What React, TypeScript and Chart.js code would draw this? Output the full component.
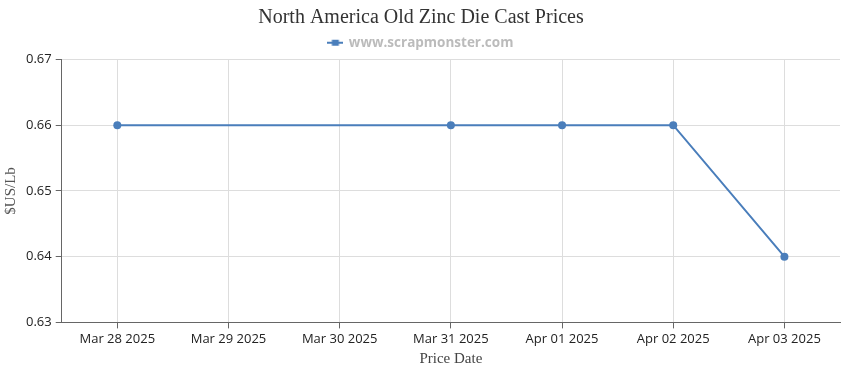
import React, { useEffect, useRef } from "react";
import { Chart, registerables } from "chart.js";

Chart.register(...registerables);

const categories = ["Mar 28 2025", "Mar 29 2025", "Mar 30 2025", "Mar 31 2025", "Apr 01 2025", "Apr 02 2025", "Apr 03 2025"];
const prices: (number | null)[] = [0.66, null, null, 0.66, 0.66, 0.66, 0.64];
const yTicks = [0.63, 0.64, 0.65, 0.66, 0.67];
const seriesName = "www.scrapmonster.com";
const chartTitle = "North America Old Zinc Die Cast Prices";
const xTitle = "Price Date";
const yTitle = "$US/Lb";

const LINE = "#4a7ebb";

function makeLegendIcon(): HTMLCanvasElement {
  const c = document.createElement("canvas");
  c.width = 16;
  c.height = 8;
  const ctx = c.getContext("2d")!;
  ctx.strokeStyle = LINE;
  ctx.lineWidth = 2;
  ctx.beginPath();
  ctx.moveTo(0, 4);
  ctx.lineTo(16, 4);
  ctx.stroke();
  ctx.fillStyle = LINE;
  ctx.fillRect(4.5, 1, 7, 6);
  return c;
}

export default function App() {
  const ref = useRef<HTMLCanvasElement | null>(null);
  useEffect(() => {
    document.body.style.margin = "0";
    const icon = makeLegendIcon();
    const chart = new Chart(ref.current!, {
      type: "line",
      data: {
        labels: categories,
        datasets: [
          {
            label: seriesName,
            data: prices,
            borderColor: LINE,
            backgroundColor: LINE,
            borderWidth: 2,
            pointStyle: "circle",
            pointRadius: 4,
            pointHoverRadius: 4,
            pointBackgroundColor: LINE,
            pointBorderColor: LINE,
            pointBorderWidth: 0,
            spanGaps: true,
            tension: 0,
          },
        ],
      },
      options: {
        animation: false,
        responsive: false,
        maintainAspectRatio: false,
        layout: { padding: { left: 2, right: 10, top: 2, bottom: 2 } },
        plugins: {
          title: {
            display: true,
            text: chartTitle,
            color: "#333",
            font: { family: "'Liberation Serif', 'Times New Roman', serif", size: 20, weight: "normal" },
            padding: { top: 4, bottom: 1 },
          },
          legend: {
            display: true,
            labels: {
              color: "#bbbbbb",
              font: { family: "'Open Sans', 'DejaVu Sans', sans-serif", size: 13.5, weight: "bold" },
              usePointStyle: true,
              boxHeight: 8,
              padding: 5,
              generateLabels: () => [
                {
                  text: seriesName,
                  fillStyle: LINE,
                  strokeStyle: LINE,
                  lineWidth: 0,
                  pointStyle: icon,
                  hidden: false,
                  datasetIndex: 0,
                  fontColor: "#bbbbbb",
                } as any,
              ],
            },
          },
          tooltip: { enabled: false },
        },
        scales: {
          x: {
            type: "category",
            offset: true,
            grid: {
              color: "#dddddd",
              offset: false,
              drawTicks: true,
              tickLength: 6,
              tickColor: "#666",
            },
            border: { color: "#666", width: 1 },
            ticks: {
              color: "#222",
              font: { family: "'Open Sans', 'DejaVu Sans', sans-serif", size: 13 },
              maxRotation: 0,
              autoSkip: false,
              padding: 3,
            },
            title: {
              display: true,
              text: xTitle,
              color: "#444",
              font: { family: "'Liberation Serif', serif", size: 15 },
              padding: { top: 0, bottom: 0 },
            },
          },
          y: {
            min: 0.63,
            max: 0.67,
            afterBuildTicks: (axis: any) => {
              axis.ticks = yTicks.map((v) => ({ value: v }));
            },
            grid: {
              color: "#dddddd",
              drawTicks: true,
              tickLength: 6,
              tickColor: "#666",
            },
            border: { color: "#666", width: 1 },
            ticks: {
              color: "#222",
              font: { family: "'Open Sans', 'DejaVu Sans', sans-serif", size: 13 },
              padding: 4,
              callback: (v: any) => Number(v).toFixed(2),
            },
            title: {
              display: true,
              text: yTitle,
              color: "#555",
              font: { family: "'Liberation Serif', serif", size: 15 },
              padding: { top: 0, bottom: 2 },
            },
          },
        },
      },
    });
    return () => chart.destroy();
  }, []);
  return (
    <div style={{ width: 850, height: 370 }}>
      <canvas ref={ref} width={850} height={370} style={{ display: "block" }} />
    </div>
  );
}
